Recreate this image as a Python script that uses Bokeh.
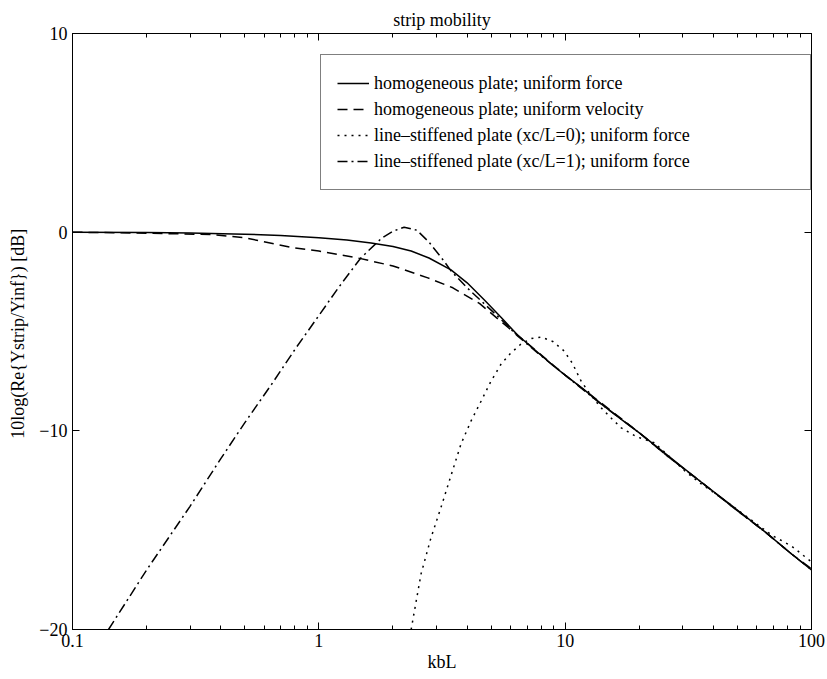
from bokeh.plotting import figure
from bokeh.models import FixedTicker, LogAxis, LinearAxis, NumeralTickFormatter, Range1d, CustomJSTickFormatter
from bokeh.embed import file_html
from bokeh.resources import INLINE

FONT = "Liberation Serif"

title_text = "strip mobility"
x_label = "kbL"
y_label = "10log(Re{Ystrip/Yinf})  [dB]"

x_ticks = [0.1, 1, 10, 100]
x_minor = [0.2, 0.3, 0.4, 0.5, 0.6, 0.7, 0.8, 0.9,
           2, 3, 4, 5, 6, 7, 8, 9,
           20, 30, 40, 50, 60, 70, 80, 90]
y_ticks = [-20, -10, 0, 10]

# homogeneous plate; uniform force
kbL_hf = [0.1, 0.2, 0.3, 0.5, 0.7, 1.0, 1.3, 1.63, 2.0, 2.37, 2.8, 3.44, 4.0, 4.69,
          5.5, 6.44, 7.77, 9.0, 10, 12, 14, 17, 20, 26.2, 35, 48.6, 65, 83, 100]
db_hf = [0.0, -0.02, -0.04, -0.1, -0.17, -0.28, -0.4, -0.54, -0.72, -0.95, -1.3, -1.9, -2.55, -3.4,
         -4.3, -5.2, -6.07, -6.75, -7.2, -7.95, -8.64, -9.45, -10.1, -11.26, -12.5, -13.87, -15.1, -16.2, -17.0]

# homogeneous plate; uniform velocity
kbL_hv = [0.1, 0.2, 0.364, 0.5, 0.79, 1.0, 1.44, 2.0, 2.77, 3.5, 4.5, 5.87, 6.44,
          7.77, 10, 14, 20, 26.2, 35, 48.6, 65, 83, 100]
db_hv = [0.0, -0.05, -0.12, -0.28, -0.79, -0.95, -1.3, -1.7, -2.3, -2.8, -3.6, -4.8, -5.2,
         -6.05, -7.2, -8.6, -10.1, -11.3, -12.5, -13.9, -15.1, -16.2, -16.95]

# line-stiffened plate (xc/L=0); uniform force
kbL_s0 = [2.37, 2.6, 2.85, 3.13, 3.45, 3.78, 4.15, 4.56, 5.0, 5.5, 6.0, 6.62, 7.3, 7.98,
          8.9, 9.9, 10.7, 11.6, 12.7, 14.0, 15.5, 16.9, 19.5, 23, 26, 30.5, 35, 40, 48, 60, 70, 83, 100]
db_s0 = [-20.0, -17.2, -15.4, -13.87, -12.2, -10.65, -9.5, -8.5, -7.5, -6.63, -6.1, -5.63, -5.35, -5.28,
         -5.5, -5.98, -6.6, -7.49, -8.2, -8.84, -9.4, -9.85, -10.3, -10.6, -11.2, -12.0, -12.6, -13.1,
         -13.8, -14.7, -15.3, -15.8, -16.6]

# line-stiffened plate (xc/L=1); uniform force
kbL_s1 = [0.14, 0.2, 0.3, 0.4, 0.5, 0.656, 0.8, 1.0, 1.2, 1.48, 1.8, 2.0, 2.22, 2.5, 2.8,
          3.22, 3.44, 4.0, 4.69, 5.5, 6.44, 7.77, 10, 14, 20, 26.2, 35, 48.6, 65, 83, 100]
db_s1 = [-20.0, -17.0, -13.8, -11.4, -9.6, -7.5, -5.9, -4.2, -2.8, -1.3, -0.3, 0.05, 0.25, 0.1, -0.5,
         -1.45, -1.95, -2.8, -3.6, -4.4, -5.25, -6.1, -7.2, -8.65, -10.1, -11.3, -12.5, -13.9, -15.1, -16.2, -17.0]

labels = ["homogeneous plate; uniform force",
          "homogeneous plate; uniform velocity",
          "line\u2013stiffened plate (xc/L=0); uniform force",
          "line\u2013stiffened plate (xc/L=1); uniform force"]

p = figure(width=827, height=679, x_axis_type="log",
           x_range=Range1d(0.1, 100), y_range=Range1d(-20, 10),
           output_backend="svg", toolbar_location=None,
           min_border_left=72, min_border_right=16, min_border_top=33, min_border_bottom=50,
           title=title_text)

p.title.text_font = FONT
p.title.text_font_style = "normal"
p.title.text_font_size = "18px"
p.title.align = "center"
p.title.text_color = "black"
p.title.standoff = 0
p.title.offset = 0

p.xgrid.visible = False
p.ygrid.visible = False
p.outline_line_color = "black"
p.outline_line_width = 1

lw = 1.5
p.line(kbL_hf, db_hf, line_color="black", line_width=lw, legend_label=labels[0])
p.line(kbL_hv, db_hv, line_color="black", line_width=lw, line_dash="10 6", legend_label=labels[1])
p.line(kbL_s0, db_s0, line_color="black", line_width=lw, line_dash="2 5", legend_label=labels[2])
p.line(kbL_s1, db_s1, line_color="black", line_width=lw, line_dash="10 4 2 4", legend_label=labels[3])

xt = FixedTicker(ticks=x_ticks, minor_ticks=x_minor)
yt = FixedTicker(ticks=y_ticks, minor_ticks=[])

bottom = p.below[0]
left = p.left[0]
bottom.ticker = xt
left.ticker = yt
bottom.formatter = NumeralTickFormatter(format="0.[0]")
bottom.axis_label = x_label
left.axis_label = y_label

blank = CustomJSTickFormatter(code="return ' ';")
top = LogAxis(ticker=xt, formatter=blank)
right = LinearAxis(ticker=yt, formatter=blank)
p.add_layout(top, "above")
p.add_layout(right, "right")

for ax in [bottom, left, top, right]:
    ax.axis_line_color = "black"
    ax.axis_line_width = 1
    ax.major_tick_in = 7
    ax.major_tick_out = 0
    ax.minor_tick_in = 4
    ax.minor_tick_out = 0
    ax.major_tick_line_color = "black"
    ax.minor_tick_line_color = "black"
    ax.major_label_text_font = FONT
    ax.major_label_text_font_size = "18px"
    ax.major_label_text_color = "black"
    ax.axis_label_text_font = FONT
    ax.axis_label_text_font_size = "18px"
    ax.axis_label_text_font_style = "normal"
    ax.axis_label_text_color = "black"

for ax in [top, right]:
    ax.major_label_text_font_size = "1px"
    ax.major_label_standoff = 0

bottom.major_label_standoff = 4
bottom.axis_label_standoff = 2
left.major_label_standoff = 5
left.axis_label_standoff = 8

lg = p.legend[0]
lg.location = (248, 439)
lg.label_text_font = FONT
lg.label_text_font_size = "18px"
lg.label_text_color = "black"
lg.border_line_color = "black"
lg.border_line_width = 1
lg.background_fill_color = "white"
lg.background_fill_alpha = 1.0
lg.padding = 16
lg.margin = 0
lg.spacing = 2
lg.glyph_width = 32
lg.glyph_height = 20
lg.label_height = 24
lg.label_standoff = 5
lg.label_width = 420

open("out.html", "w").write(file_html(p, INLINE))
